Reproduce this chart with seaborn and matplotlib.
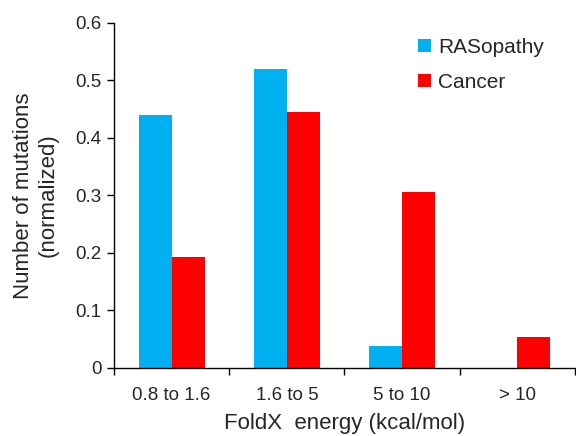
import pandas as pd
import matplotlib.pyplot as plt
import seaborn as sns

# data
bins = ["0.8 to 1.6", "1.6 to 5", "5 to 10", "> 10"]
rasopathy = [0.44, 0.52, 0.038, 0.0]
cancer = [0.193, 0.444, 0.305, 0.054]

df = pd.DataFrame({
    "Bin": bins * 2,
    "Value": rasopathy + cancer,
    "Group": ["RASopathy"] * len(bins) + ["Cancer"] * len(bins),
})

sns.set_style("ticks")
plt.rcParams["font.family"] = ["Liberation Sans", "DejaVu Sans"]

fig = plt.figure(figsize=(5.76, 4.36), dpi=100)
ax = fig.add_axes([0.198, 0.156, 0.8, 0.792])

sns.barplot(data=df, x="Bin", y="Value", hue="Group",
            palette={"RASopathy": "#00B0F0", "Cancer": "#FF0000"},
            width=0.574, gap=0, saturation=1, linewidth=0, ax=ax)

ax.set_xlim(-0.5, 3.5)
ax.set_ylim(0, 0.6)
ax.set_yticks([0, 0.1, 0.2, 0.3, 0.4, 0.5, 0.6])
ax.set_yticklabels(["0", "0.1", "0.2", "0.3", "0.4", "0.5", "0.6"])

# boundary ticks as major, labels on minor ticks at the centers
ax.set_xticks([-0.5, 0.5, 1.5, 2.5, 3.5])
ax.set_xticklabels([])
ax.set_xticks(range(len(bins)), minor=True)
ax.set_xticklabels(bins, minor=True)
ax.tick_params(axis="x", which="minor", length=0, pad=14, labelsize=13.5)
ax.tick_params(axis="x", which="major", length=5, width=1, direction="out", color="black")
ax.tick_params(axis="y", length=5, width=1, color="black", labelsize=13.5, pad=4)

for s in ["top", "right"]:
    ax.spines[s].set_visible(False)
for s in ["left", "bottom"]:
    ax.spines[s].set_color("black")
    ax.spines[s].set_linewidth(1)

ax.set_xlabel("FoldX  energy (kcal/mol)", fontsize=16, labelpad=6)
ax.set_ylabel("Number of mutations\n(normalized)", fontsize=16, labelpad=12)

ax.legend(loc="upper left", bbox_to_anchor=(0.62, 1.01), frameon=False,
          fontsize=15, handlelength=0.6, handleheight=0.6, handletextpad=0.35,
          labelspacing=0.75)

fig.savefig("out.png", dpi=100)
